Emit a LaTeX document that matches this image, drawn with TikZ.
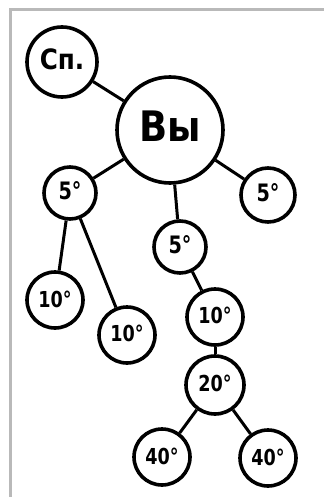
\documentclass[tikz,border=0pt]{standalone}
\usepackage{fontspec}
\setmainfont{DejaVu Sans}
\begin{document}
\begin{tikzpicture}[x=1pt,y=-1pt,
  bubble/.style={circle,draw=black,line width=3.6pt,fill=white,inner sep=0pt,minimum size=#1},
  bubble/.default=56pt,
  link/.style={line width=3pt,black},
  lbl/.style={font=\bfseries\fontsize{#1}{#1}\selectfont},
  lbl/.default=24pt,
  deg/.style={xscale=0.8}]
  \useasboundingbox (0,0) rectangle (324,497);
  % frame edges
  \draw[line width=3pt,gray!55] (10,497) -- (10,10) -- (324,10);

  % nodes
  \node[bubble=70pt] (sp)  at (62,62)   {};
  \node[lbl=28pt,xscale=0.88] at ([yshift=3pt]sp) {Сп.};
  \node[bubble=106pt] (vy) at (170,130) {};
  \node[lbl=42pt,xscale=0.88] at ([yshift=4pt]vy) {Вы};
  \node[bubble=52pt] (l5)  at (70,193)  {};
  \node[lbl,deg] at ([yshift=2pt]l5) {5°};
  \node[bubble=54pt] (r5)  at (268,195) {};
  \node[lbl,deg] at ([yshift=2pt]r5) {5°};
  \node[bubble=52pt] (m5)  at (180,247) {};
  \node[lbl,deg] at ([yshift=2pt]m5) {5°};
  \node[bubble=56pt] (a10) at (55,300)  {};
  \node[lbl=22pt,deg] at ([yshift=1pt]a10) {10°};
  \node[bubble=56pt] (b10) at (127,335) {};
  \node[lbl=22pt,deg] at ([yshift=2pt]b10) {10°};
  \node[bubble=56pt] (c10) at (215,317) {};
  \node[lbl=22pt,deg] at ([yshift=2pt]c10) {10°};
  \node[bubble=58pt] (d20) at (215,385) {};
  \node[lbl=22pt,deg] at ([yshift=2pt]d20) {20°};
  \node[bubble=56pt] (e40) at (162,457) {};
  \node[lbl=22pt,deg] at ([yshift=1pt]e40) {40°};
  \node[bubble=56pt] (f40) at (268,458) {};
  \node[lbl=22pt,deg] at ([yshift=1pt]f40) {40°};

  % connectors
  \draw[link] (sp) -- (vy);
  \draw[link] (vy) -- (l5);
  \draw[link] (vy) -- (m5);
  \draw[link] (vy) -- (r5);
  \draw[link] (l5) -- (a10);
  \draw[link] (l5) -- (b10);
  \draw[link] (m5) -- (c10);
  \draw[link] (c10) -- (d20);
  \draw[link] (d20) -- (e40);
  \draw[link] (d20) -- (f40);
\end{tikzpicture}
\end{document}
